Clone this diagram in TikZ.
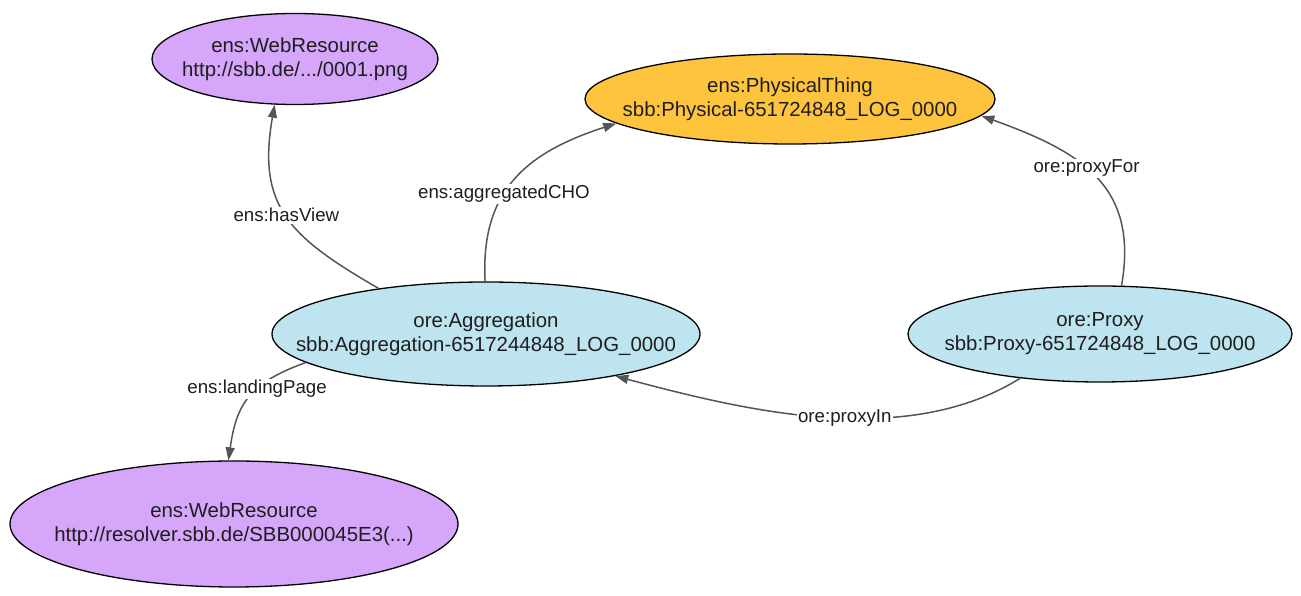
\documentclass[tikz,border=0pt]{standalone}
\usepackage{fontspec}
\setmainfont{Liberation Sans}
\usetikzlibrary{shapes.geometric,arrows.meta}
\definecolor{wrfill}{RGB}{214,166,250}
\definecolor{physfill}{RGB}{254,196,62}
\definecolor{orefill}{RGB}{190,228,240}
\definecolor{edgecol}{RGB}{85,85,85}
\definecolor{txtcol}{RGB}{30,30,30}
\newcommand{\zl}[1]{\makebox[0pt]{#1}}
\tikzset{
  ent/.style={ellipse, draw=black, line width=1.3pt, inner sep=0pt, align=center,
    text=txtcol, font=\fontsize{20.4}{24}\selectfont},
  rel/.style={draw=edgecol, line width=1.5pt, -{Triangle[length=13pt,width=9pt]}},
  lbl/.style={fill=white, inner sep=1.5pt, text=txtcol, font=\fontsize{18.7}{22}\selectfont}
}
\begin{document}
\begin{tikzpicture}[x=1pt,y=1pt]
\useasboundingbox (0,0) rectangle (1301,596);
\node[ent, fill=wrfill, minimum width=286pt, minimum height=91pt] (wr1) at (295,537) {\zl{ens:WebResource}\\\zl{http://sbb.de/.../0001.png}};
\node[ent, fill=physfill, minimum width=410pt, minimum height=90pt] (phys) at (790,497) {\zl{ens:PhysicalThing}\\\zl{sbb:Physical-651724848\_LOG\_0000}};
\node[ent, fill=orefill, minimum width=428pt, minimum height=104pt] (agg) at (486,262) {\zl{ore:Aggregation}\\\zl{sbb:Aggregation-6517244848\_LOG\_0000}};
\node[ent, fill=orefill, minimum width=384pt, minimum height=96pt] (proxy) at (1100,262) {\zl{ore:Proxy}\\\zl{sbb:Proxy-651724848\_LOG\_0000}};
\node[ent, fill=wrfill, minimum width=448pt, minimum height=126pt] (wr2) at (234,72) {\zl{ens:WebResource}\\\zl{http://resolver.sbb.de/SBB000045E3(...)}};

\draw[rel] (agg.157) to[out=150, in=260, looseness=1.25] node[lbl, pos=0.5] {ens:hasView} (wr1.246);
\draw[rel] (agg.91) to[out=93, in=198, looseness=1.15] node[lbl, pos=0.4] {ens:aggregatedCHO} (phys.188);
\draw[rel] (proxy.66) to[out=80, in=340, looseness=1.2] node[lbl, pos=0.55] {ore:proxyFor} (phys.355);
\draw[rel] (proxy.209) to[out=212, in=345, looseness=0.85] node[lbl, pos=0.45] {ore:proxyIn} (agg.342);
\draw[rel] (agg.189) to[out=200, in=82, looseness=1.2] node[lbl, pos=0.4] {ens:landingPage} (wr2.95);
\end{tikzpicture}
\end{document}
